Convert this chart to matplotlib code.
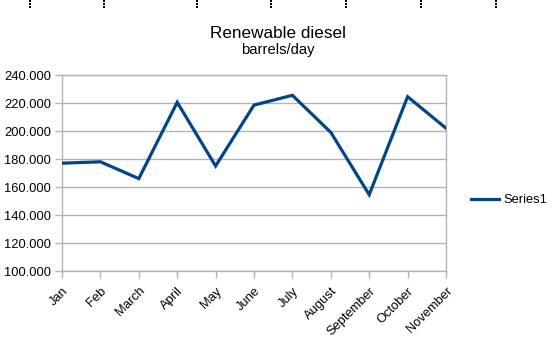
import matplotlib
matplotlib.use("Agg")
import matplotlib.pyplot as plt
from matplotlib.lines import Line2D
from matplotlib.ticker import FuncFormatter

plt.rcParams['font.family'] = ['Liberation Sans', 'DejaVu Sans']

months = ["Jan", "Feb", "March", "April", "May", "June", "July",
          "August", "September", "October", "November"]
series1 = [177.0, 178.0, 166.0, 220.5, 175.0, 218.5, 225.5,
           199.0, 154.5, 224.5, 202.0]
yticks = [100, 120, 140, 160, 180, 200, 220, 240]

W, H = 559, 345
fig = plt.figure(figsize=(W / 100, H / 100), dpi=100)
ax = fig.add_axes([62 / W, 74 / H, (446 - 62) / W, (271 - 75) / H])

x = list(range(len(months)))
ax.plot(x, series1, color="#004586", linewidth=2.3, solid_joinstyle="miter",
        label="Series1", zorder=3)

ax.set_xlim(0, len(months) - 1)
ax.set_ylim(100, 240)
ax.set_yticks(yticks)
ax.yaxis.set_major_formatter(FuncFormatter(lambda v, p: f"{int(v)}.000"))
ax.set_xticks(x)
ax.set_xticklabels(months, rotation=45, ha="right", va="top",
                   rotation_mode="anchor")
ax.grid(axis="y", color="#b3b3b3", linewidth=1)
ax.set_axisbelow(True)
for s in ax.spines.values():
    s.set_color("#b3b3b3")
    s.set_linewidth(1)
ax.tick_params(axis="both", colors="#b3b3b3", labelcolor="black",
               labelsize=9.3, length=5, width=1)
ax.tick_params(axis="x", pad=5)
ax.tick_params(axis="y", pad=3)

fig.text(278 / W, 1 - 33 / H, "Renewable diesel", ha="center", va="center",
         fontsize=12.3)
fig.text(278 / W, 1 - 50 / H, "barrels/day", ha="center", va="center",
         fontsize=10.6)

leg = fig.legend(handles=[Line2D([], [], color="#004586", linewidth=2.3)],
                 labels=["Series1"], loc="center left",
                 bbox_to_anchor=(471 / W, 1 - 200 / H), frameon=False,
                 fontsize=9.3, handlelength=2.2, handletextpad=0.3,
                 borderpad=0, borderaxespad=0)

for xp in [30.5, 104, 197, 271, 346, 421, 496]:
    fig.add_artist(Line2D([xp / W, xp / W], [1, 1 - 9 / H], color="black",
                          linewidth=1.2, linestyle=(0, (1, 1)),
                          antialiased=False,
                          transform=fig.transFigure))

fig.savefig("out.png", dpi=100)
